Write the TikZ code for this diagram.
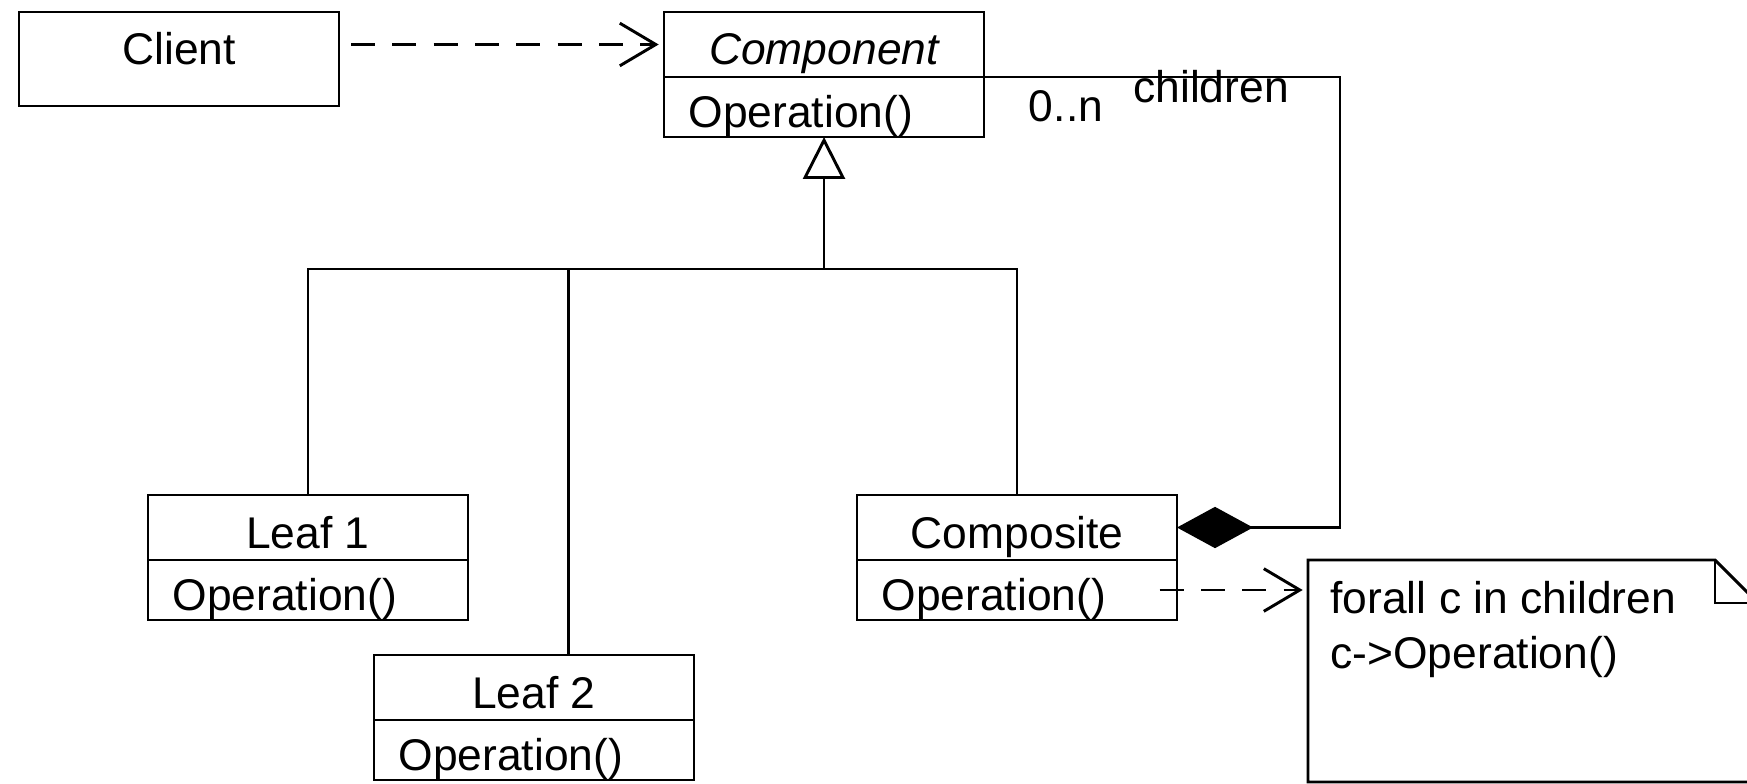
\documentclass[tikz,border=0pt]{standalone}
\usepackage{fontspec}
\setmainfont{Liberation Sans}
\usetikzlibrary{arrows.meta,positioning}

\tikzset{every picture/.style={line width=2.2pt}}
\tikzset{
  namepart/.style={draw, rectangle, inner sep=0pt, outer sep=0pt, minimum width=240pt, minimum height=48.75pt, text height=39.75pt, text depth=9pt},
  oppart/.style={draw, rectangle, inner ysep=0pt, inner xsep=18.4pt, outer sep=0pt, text width=203.2pt, align=left, minimum height=45pt, text height=38pt, text depth=7pt},
  clientpart/.style={draw, rectangle, inner sep=0pt, outer sep=0pt, minimum width=240pt, minimum height=70.5pt, text height=39.75pt, text depth=30.75pt},
  plaintext/.style={inner sep=0pt},
  depends/.style={dash pattern=on 18pt off 13pt, -{Straight Barb[length=27pt,width=32pt]}, shorten >=4pt},
  inherits/.style={-{Triangle[open,length=31.5pt,width=31.5pt]}},
  owns/.style={{Diamond[length=57pt,width=31pt]}-}
}

\begin{document}
\begin{tikzpicture}[x=0.75pt,y=0.75pt,yscale=-1,xscale=1,font=\fontsize{33.3pt}{40pt}\selectfont]
\useasboundingbox (0,0) rectangle (1747,784);

%Classes
\node[clientpart, anchor=north west] (clientBox) at (19,12) {Client};
\node[namepart, anchor=north west] (componentName) at (664,12) {\itshape Component};
\node[oppart, below=0pt of componentName] (componentOp) {Operation()};
\node[namepart, anchor=north west] (leafAName) at (148,495) {Leaf 1};
\node[oppart, below=0pt of leafAName] (leafAOp) {Operation()};
\node[namepart, anchor=north west] (leafBName) at (374,655) {Leaf 2};
\node[oppart, below=0pt of leafBName] (leafBOp) {Operation()};
\node[namepart, anchor=north west] (compositeName) at (857,495) {Composite};
\node[oppart, below=0pt of compositeName] (compositeOp) {Operation()};

%Note
\coordinate (noteNW) at (1308,560);
\draw (noteNW) -- (1715,560) -- (1758,603) -- (1758,782) -- (1308,782) -- cycle;
\draw (1715,560) -- (1715,603) -- (1758,603);
\node[plaintext, anchor=base west] (noteLineA) at (1329,613) {forall c in children};
\node[plaintext, anchor=base west] (noteLineB) at (1329,668) {c->Operation()};

%Dependencies
\draw[depends] ([xshift=9pt]clientBox.east |- componentName.west) -- (componentName.west);
\draw[depends] ([xshift=-13pt]compositeOp.east) -- (compositeOp.east -| noteNW);

%Generalization
\coordinate (fork) at (824,269);
\draw[inherits] (fork) -- (componentOp.south);
\draw (leafAName.north) |- (fork) -| (compositeName.north);
\draw ([xshift=26pt]leafBName.north) -- ([xshift=26pt]leafBName.north |- fork);

%Composition
\coordinate (childTurn) at (1340,77);
\draw[owns] (compositeName.east) -| (childTurn) -- (componentName.south east);
\node[plaintext, anchor=base] (multLabel) at (1066,122) {0..n};
\node[plaintext, anchor=base] (roleLabel) at (1211,103) {children};

\end{tikzpicture}
\end{document}
